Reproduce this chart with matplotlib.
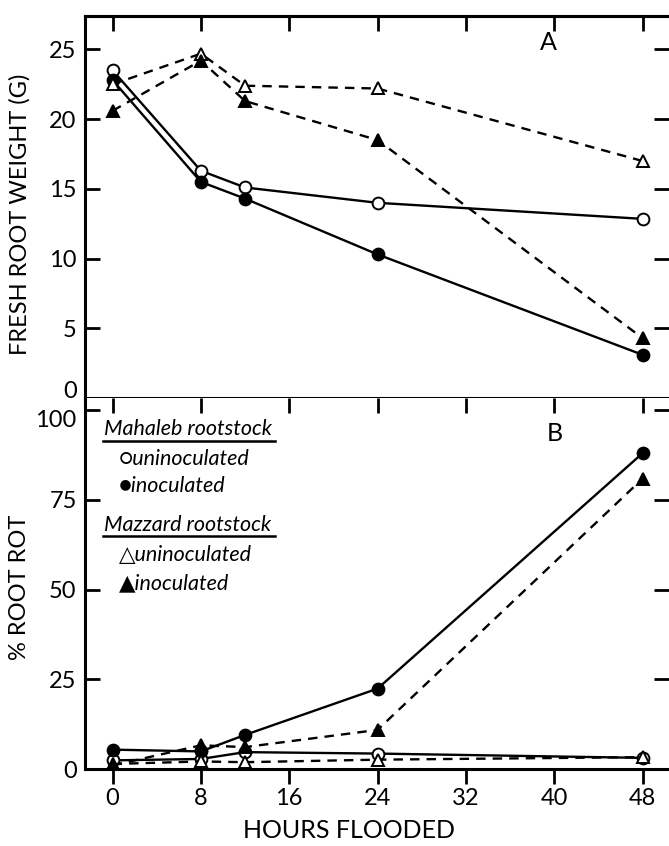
import matplotlib
matplotlib.use('Agg')
import matplotlib.pyplot as plt
from matplotlib.lines import Line2D

plt.rcParams['font.family'] = ['Lato', 'DejaVu Sans']

hours = [0, 8, 12, 24, 48]

# panel A: fresh root weight (g)
weight_mahaleb_uninoc = [23.5, 16.3, 15.1, 14.0, 12.85]
weight_mahaleb_inoc = [22.8, 15.5, 14.3, 10.3, 3.1]
weight_mazzard_uninoc = [22.5, 24.7, 22.4, 22.2, 17.0]
weight_mazzard_inoc = [20.6, 24.2, 21.3, 18.5, 4.3]

# panel B: % root rot
rot_mahaleb_uninoc = [2.4, 2.8, 4.7, 4.3, 3.1]
rot_mahaleb_inoc = [5.4, 4.9, 9.5, 22.4, 88.0]
rot_mazzard_uninoc = [1.4, 2.1, 1.9, 2.6, 3.3]
rot_mazzard_inoc = [1.0, 6.6, 6.1, 10.9, 80.9]

weight_ticks = [0, 5, 10, 15, 20, 25]
rot_ticks = [0, 25, 50, 75, 100]
hour_ticks = [0, 8, 16, 24, 32, 40, 48]

W, H = 669, 846
fig = plt.figure(figsize=(W / 100, H / 100), dpi=100)
axA = fig.add_axes([85 / W, 1 - 398 / H, 1 - 85 / W, (398 - 16) / H])
axB = fig.add_axes([85 / W, 1 - 769 / H, 1 - 85 / W, (769 - 398) / H])

styles = [
    ('o', 'white', '-'),
    ('o', 'black', '-'),
    ('^', 'white', '--'),
    ('^', 'black', '--'),
]


def draw(ax, series):
    for vals, (m, fc, ls) in zip(series, styles):
        ax.plot(hours, vals, color='black', linestyle=ls, linewidth=1.7,
                dashes=(4, 3) if ls == '--' else (None, None),
                marker=m, markersize=8.5, markerfacecolor=fc,
                markeredgecolor='black', markeredgewidth=1.4, zorder=3)


def style_axis(ax, yticks, ylim):
    ax.set_xlim(-2.5, 50.4)
    ax.set_ylim(*ylim)
    ax.set_xticks(hour_ticks)
    ax.set_yticks(yticks)
    for s in ['left', 'bottom', 'top']:
        ax.spines[s].set_linewidth(2.2)
    ax.spines['right'].set_visible(False)
    ax.tick_params(axis='y', direction='in', length=11, width=2,
                   labelsize=17, left=True, right=True, pad=6)
    ax.tick_params(axis='x', direction='out', length=11, width=2,
                   labelsize=17, top=False, pad=3)
    sec = ax.secondary_xaxis('top')
    sec.set_xticks(hour_ticks)
    sec.tick_params(direction='in', length=11, width=2, labeltop=False)
    sec.spines['top'].set_linewidth(2.2)
    return sec


draw(axA, [weight_mahaleb_uninoc, weight_mahaleb_inoc,
           weight_mazzard_uninoc, weight_mazzard_inoc])
style_axis(axA, weight_ticks, (0, 27.4))
axA.tick_params(axis='x', bottom=False, labelbottom=False)
axA.set_ylabel('FRESH ROOT WEIGHT (G)', fontsize=17)
axA.yaxis.set_label_coords(-0.094, 0.48)
axA.text(0.793, 0.93, 'A', transform=axA.transAxes, fontsize=18,
         ha='center', va='center')
# the "0" sits just above the spine, clear of the "100" below
axA.yaxis.get_major_ticks()[0].label1.set_va('baseline')

draw(axB, [rot_mahaleb_uninoc, rot_mahaleb_inoc,
           rot_mazzard_uninoc, rot_mazzard_inoc])
secB = style_axis(axB, rot_ticks, (0, 103.4))
secB.spines['top'].set_visible(False)
axB.spines['top'].set_visible(False)
axB.yaxis.get_major_ticks()[-1].label1.set_va('top')
axB.set_ylabel('% ROOT ROT', fontsize=17)
axB.yaxis.set_label_coords(-0.094, 0.49)
axB.set_xlabel('HOURS FLOODED', fontsize=18, va='center')
axB.xaxis.set_label_coords((349 - 85) / 584, -0.165)
axB.text(0.805, 0.905, 'B', transform=axB.transAxes, fontsize=18,
         ha='center', va='center')

# key drawn as text, like the original figure
key = [
    ('Mahaleb rootstock', 0.033, 0.916, True),
    ('○uninoculated', 0.058, 0.835, False),
    ('●inoculated', 0.058, 0.762, False),
    ('Mazzard rootstock', 0.033, 0.659, True),
    ('△uninoculated', 0.058, 0.578, False),
    ('▲inoculated', 0.058, 0.500, False),
]
for label, x, y, head in key:
    axB.text(x, y, label, transform=axB.transAxes, fontsize=15.5,
             style='italic', ha='left', va='center')
    if head:
        axB.add_line(Line2D([0.031, 0.325], [y - 0.032, y - 0.032],
                            transform=axB.transAxes, color='black', lw=1.8))

fig.savefig('out.png', dpi=100)
